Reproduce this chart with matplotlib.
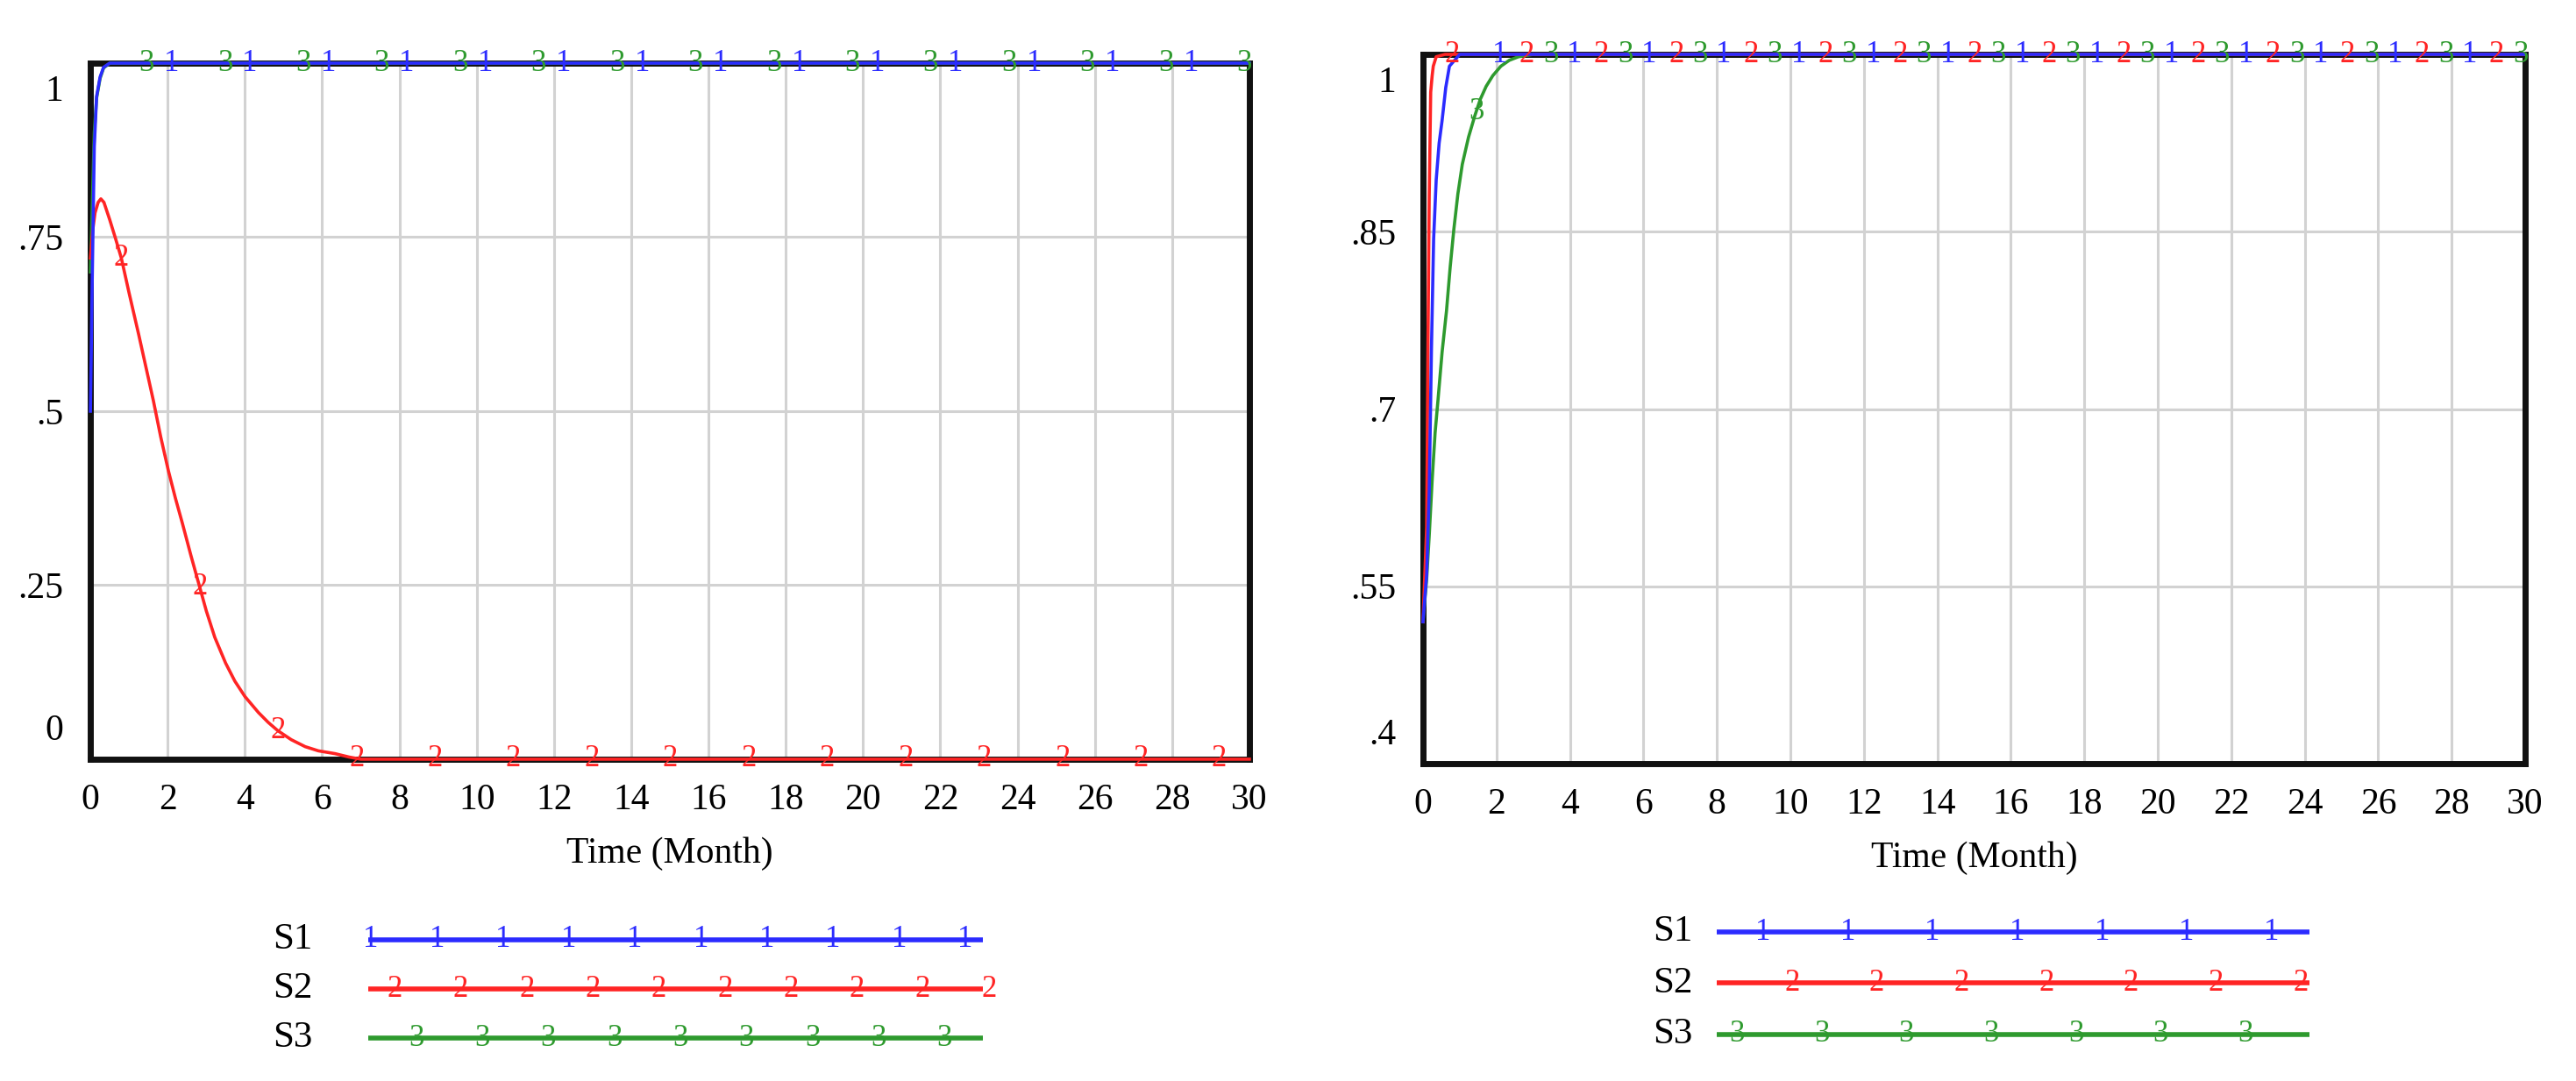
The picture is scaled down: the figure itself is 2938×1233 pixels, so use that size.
import numpy as np
import matplotlib
matplotlib.use("Agg")
import matplotlib.pyplot as plt
from matplotlib.transforms import ScaledTranslation

plt.rcParams['font.family'] = ['Liberation Serif', 'DejaVu Serif']
plt.rcParams['font.size'] = 30

# ----------- DATA ------------
x_ticks = list(range(0, 31, 2))
series_names = ["S1", "S2", "S3"]
series_marks = ["1", "2", "3"]

# left panel
left_y_ticks = [0, 0.25, 0.5, 0.75, 1]
left_y_labels = ["0", ".25", ".5", ".75", "1"]

left_s1_t = [0, 0.05, 0.1, 0.16, 0.25, 0.34, 0.5, 30]
left_s1_v = [0.5, 0.7, 0.88, 0.952, 0.98, 0.994, 1.0, 1.0]

left_s2_t = [0, 0.06, 0.12, 0.2, 0.27, 0.35, 0.5, 0.65, 0.8, 1.0, 1.25, 1.45,
             1.63, 1.82, 2.02, 2.2, 2.38, 2.6, 2.81, 3.0, 3.22, 3.5, 3.74,
             4.0, 4.35, 4.6, 4.85, 5.2, 5.56, 5.9, 6.33, 6.7, 7.0, 30]
left_s2_v = [0.72, 0.76, 0.785, 0.8, 0.805, 0.8, 0.775, 0.748, 0.72, 0.67,
             0.61, 0.56, 0.515, 0.463, 0.414, 0.375, 0.339, 0.293, 0.251,
             0.213, 0.175, 0.138, 0.112, 0.09, 0.067, 0.053, 0.041, 0.028,
             0.018, 0.012, 0.008, 0.003, 0.0, 0.0]

left_s3_t = [0, 0.05, 0.1, 0.16, 0.25, 0.34, 0.5, 30]
left_s3_v = [0.7, 0.8, 0.9, 0.95, 0.978, 0.993, 1.0, 1.0]

# right panel
right_y_ticks = [0.4, 0.55, 0.7, 0.85, 1]
right_y_labels = [".4", ".55", ".7", ".85", "1"]

right_s1_t = [0, 0.1, 0.17, 0.23, 0.29, 0.36, 0.44, 0.52, 0.62, 0.72, 1.0, 30]
right_s1_v = [0.52, 0.56, 0.63, 0.75, 0.844, 0.894, 0.925, 0.944, 0.972,
              0.99, 1.0, 1.0]

right_s2_t = [0, 0.1, 0.14, 0.17, 0.21, 0.25, 0.28, 0.36, 0.6, 30]
right_s2_v = [0.52, 0.6, 0.77, 0.88, 0.968, 0.982, 0.99, 0.998, 1.0, 1.0]

right_s3_t = [0, 0.1, 0.17, 0.25, 0.33, 0.41, 0.52, 0.64, 0.74, 0.84, 0.95,
              1.07, 1.24, 1.41, 1.56, 1.72, 1.9, 2.12, 2.35, 2.6, 3.0, 30]
right_s3_v = [0.52, 0.556, 0.593, 0.64, 0.68, 0.708, 0.748, 0.783, 0.82,
              0.852, 0.882, 0.907, 0.93, 0.948, 0.962, 0.973, 0.982, 0.99,
              0.995, 0.998, 1.0, 1.0]

# ----------- STYLE ------------
colors = ["#2b2bff", "#ff2424", "#2e9a2e"]
line_z = [5, 4, 3]
mark_start = [2.1, 0.8, 1.45]
mark_step = 2.03
grid_color = "#d2d2d2"

fig = plt.figure(figsize=(29.38, 12.33), dpi=100)


def draw_panel(rect, series, y_ticks, y_labels):
    ax = fig.add_axes(rect)
    for i, (t, v) in enumerate(series):
        ax.plot(t, v, color=colors[i], lw=2.6, zorder=line_z[i], clip_on=False)
        for mt in np.arange(mark_start[i], 30.01, mark_step):
            ax.text(mt, np.interp(mt, t, v), series_marks[i], color=colors[i],
                    fontsize=25, ha="center", va="center", zorder=6)
    ax.set_xlim(0, 30)
    ax.set_ylim(y_ticks[0], y_ticks[-1])
    ax.set_xticks(x_ticks)
    ax.set_yticks(y_ticks)
    ax.set_yticklabels(y_labels)
    ax.tick_params(length=0, labelsize=30)
    ax.tick_params(axis="x", pad=20)
    ax.tick_params(axis="y", pad=22)
    ax.grid(True, color=grid_color, lw=2.2, zorder=0)
    ax.set_axisbelow(True)
    for s in ax.spines.values():
        s.set_linewidth(5)
        s.set_color("#111111")
    ax.set_xlabel("Time (Month)", fontsize=30, labelpad=16)
    ticks = ax.yaxis.get_major_ticks()
    lo, hi = ticks[0].label1, ticks[-1].label1
    lo.set_verticalalignment("bottom")
    lo.set_transform(lo.get_transform() + ScaledTranslation(0, 0.13, fig.dpi_scale_trans))
    hi.set_verticalalignment("top")
    hi.set_transform(hi.get_transform() + ScaledTranslation(0, -0.13, fig.dpi_scale_trans))
    return ax


def draw_legend(rect, name_x, starts, counts, step):
    lax = fig.add_axes(rect)
    lax.set_xlim(0, 1)
    lax.set_ylim(2.5, -0.5)
    lax.axis("off")
    for row in range(3):
        lax.plot([0, 1], [row, row], color=colors[row], lw=4,
                 solid_capstyle="butt")
        for fx in starts[row] + step * np.arange(counts[row]):
            lax.text(fx, row, series_marks[row], color=colors[row],
                     fontsize=25, ha="center", va="center", clip_on=False)
        lax.text(name_x, row, series_names[row], ha="right", va="center",
                 fontsize=31)


draw_panel([0.0351, 0.2977, 0.4499, 0.6439],
           [(left_s1_t, left_s1_v), (left_s2_t, left_s2_v), (left_s3_t, left_s3_v)],
           left_y_ticks, left_y_labels)
draw_panel([0.5524, 0.2936, 0.4279, 0.6561],
           [(right_s1_t, right_s1_v), (right_s2_t, right_s2_v), (right_s3_t, right_s3_v)],
           right_y_ticks, right_y_labels)

draw_legend([0.1430, 0.0170, 0.2386, 0.1363], -0.091,
            [0.004, 0.043, 0.078], [10, 10, 9], 0.1074)
draw_legend([0.6664, 0.0195, 0.2301, 0.1419], -0.041,
            [0.078, 0.127, 0.034], [7, 7, 7], 0.143)

fig.savefig("out.png", dpi=100, facecolor="white")
